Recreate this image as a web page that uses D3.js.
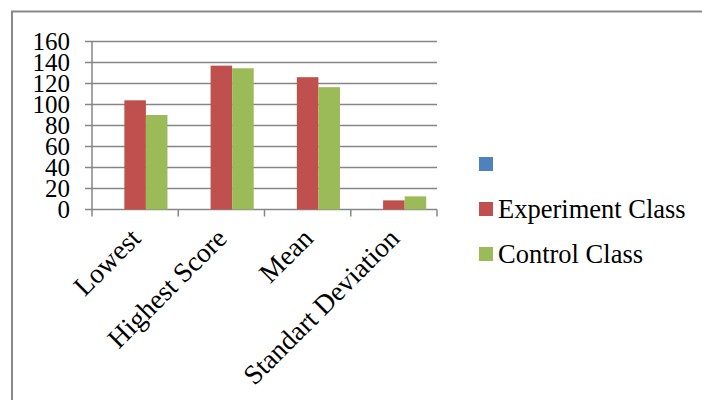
<!DOCTYPE html>
<meta charset="utf-8">
<script src="https://d3js.org/d3.v7.min.js"></script>
<style>
  body { margin: 0; background: #fff; }
  text { font-family: "Liberation Serif", "Times New Roman", serif; fill: #000; }
</style>
<svg id="chart" width="702" height="400"></svg>
<script>
// data
var categories = ["Lowest", "Highest Score", "Mean", "Standart Deviation"];
var seriesNames = ["", "Experiment Class", "Control Class"];
var seriesColors = ["#4f81bd", "#c0504d", "#9bbb59"];
var blankValues = [null, null, null, null];
var experimentValues = [104, 137, 126, 8.7];
var controlValues = [90, 134.5, 116.5, 12.5];
var yTicks = [0, 20, 40, 60, 80, 100, 120, 140, 160];

var allSeries = [blankValues, experimentValues, controlValues];

var svg = d3.select("#chart");

// outer frame
svg.append("rect")
  .attr("x", 12).attr("y", 11.5)
  .attr("width", 720).attr("height", 420)
  .attr("fill", "none")
  .attr("stroke", "#898989")
  .attr("stroke-width", 2);

var plotLeft = 92, plotRight = 437, plotTop = 41.5, plotBottom = 209.5;

var x = d3.scaleBand()
  .domain(categories)
  .range([plotLeft, plotRight])
  .paddingInner(0).paddingOuter(0);

var x1 = d3.scaleBand()
  .domain(d3.range(seriesNames.length))
  .range([0, x.bandwidth()])
  .paddingInner(0)
  .paddingOuter(0.5);

var y = d3.scaleLinear()
  .domain([0, 160])
  .range([plotBottom, plotTop]);

// gridlines
svg.append("g")
  .selectAll("line")
  .data(yTicks)
  .enter()
  .append("line")
    .attr("x1", plotLeft - 7)
    .attr("x2", plotRight)
    .attr("y1", function(d) { return y(d); })
    .attr("y2", function(d) { return y(d); })
    .attr("stroke", "#868686")
    .attr("stroke-width", 1.5);

// y axis line
svg.append("line")
  .attr("x1", plotLeft).attr("x2", plotLeft)
  .attr("y1", plotTop).attr("y2", plotBottom)
  .attr("stroke", "#868686")
  .attr("stroke-width", 1.5);

// x ticks at category boundaries
var boundaries = categories.map(function(c) { return x(c); }).concat([plotRight]);
svg.append("g")
  .selectAll("line")
  .data(boundaries)
  .enter()
  .append("line")
    .attr("x1", function(d) { return d; })
    .attr("x2", function(d) { return d; })
    .attr("y1", plotBottom)
    .attr("y2", plotBottom + 7)
    .attr("stroke", "#868686")
    .attr("stroke-width", 1.5);

// y labels
svg.append("g")
  .selectAll("text")
  .data(yTicks)
  .enter()
  .append("text")
    .attr("x", 70)
    .attr("y", function(d) { return y(d) + 8; })
    .attr("text-anchor", "end")
    .style("font-size", "25px")
    .text(function(d) { return d; });

// bars
allSeries.forEach(function(values, s) {
  svg.append("g")
    .selectAll("rect")
    .data(values.map(function(v, i) { return { cat: categories[i], value: v }; }))
    .enter()
    .filter(function(d) { return d.value != null; })
    .append("rect")
      .attr("x", function(d) { return x(d.cat) + x1(s); })
      .attr("y", function(d) { return y(d.value); })
      .attr("width", x1.bandwidth())
      .attr("height", function(d) { return plotBottom - y(d.value); })
      .attr("fill", seriesColors[s]);
});

// x labels, rotated
svg.append("g")
  .selectAll("text")
  .data(categories)
  .enter()
  .append("text")
    .attr("transform", function(d) {
      return "translate(" + (x(d) + x.bandwidth() / 2 + 7) + "," + 240 + ")rotate(-45)";
    })
    .attr("text-anchor", "end")
    .style("font-size", "27.5px")
    .text(function(d) { return d; });

// legend
var legend = svg.append("g")
  .selectAll("g")
  .data(seriesNames)
  .enter()
  .append("g")
    .attr("transform", function(d, i) { return "translate(479," + (157 + i * 45) + ")"; });

legend.append("rect")
  .attr("width", 14).attr("height", 14)
  .attr("fill", function(d, i) { return seriesColors[i]; });

legend.append("text")
  .attr("x", 19)
  .attr("y", 16)
  .style("font-size", "26.5px")
  .text(function(d) { return d; });
</script>
